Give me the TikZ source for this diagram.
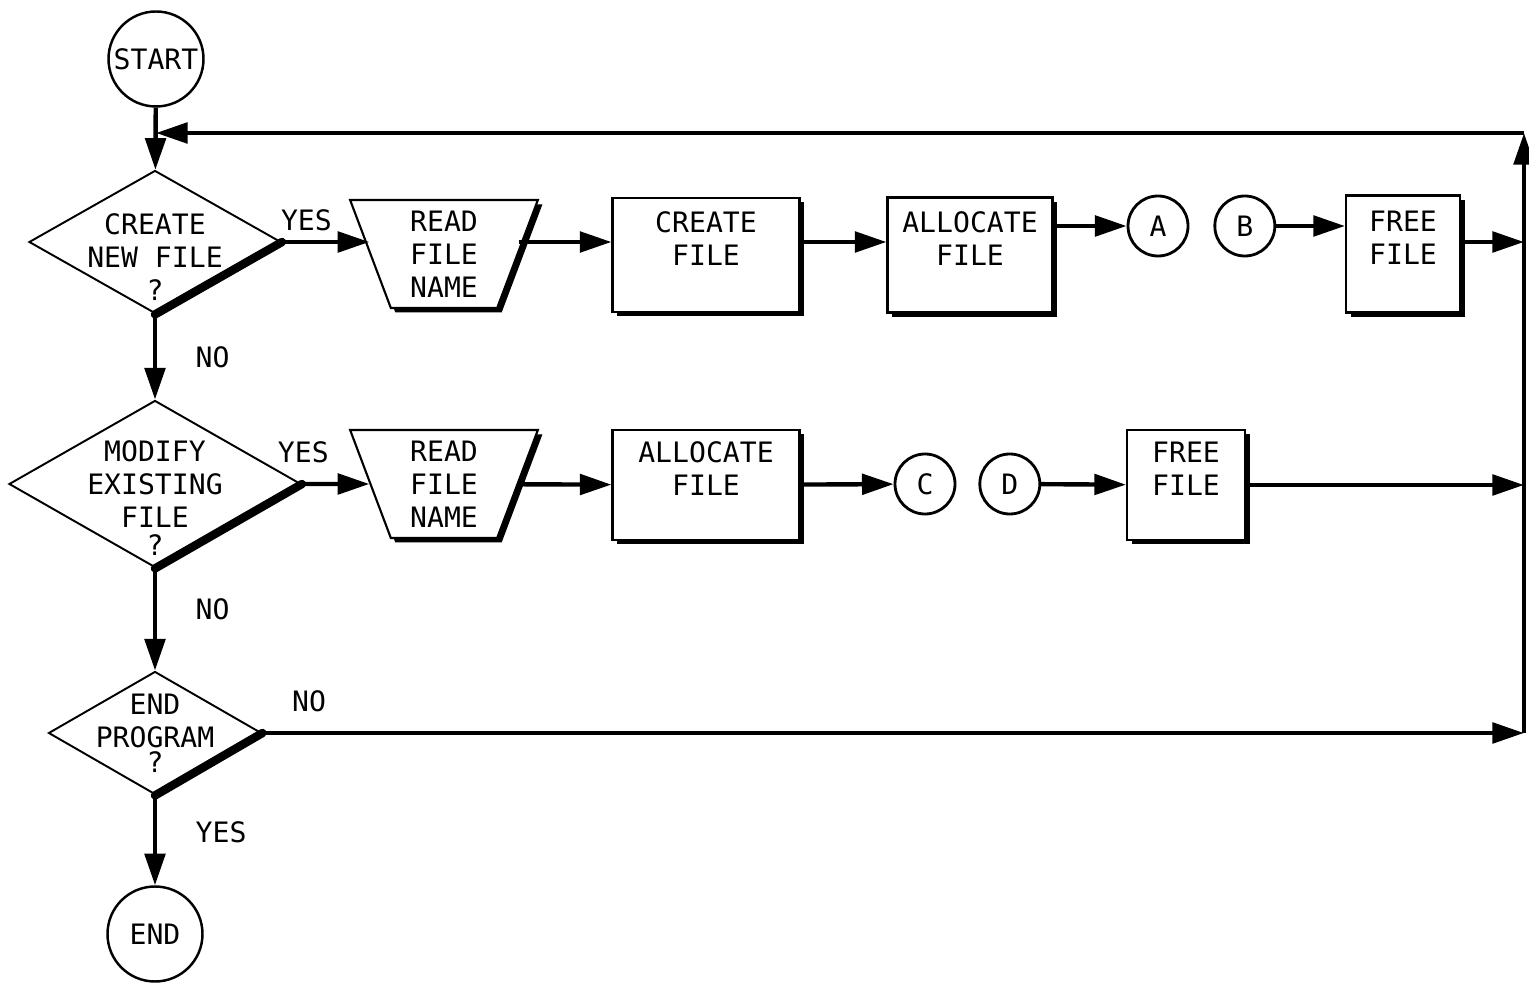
\documentclass[tikz,border=0pt]{standalone}
\usepackage{fontspec}
\newfontfamily\plotfont{DejaVu Sans Mono}
\newcommand{\chartfont}{\plotfont\fontsize{8}{9.4}\selectfont}
\usepackage{tikz}
\usetikzlibrary{shapes.geometric, arrows.meta, positioning, shadows}

\begin{document}
\begin{tikzpicture}[
    x=0.1mm, y=-0.1mm,
    txt/.style={font=\chartfont, align=center, inner sep=0pt},
    lbl/.style={font=\chartfont, inner sep=1pt},
    term/.style={draw, circle, line width=0.7pt, minimum size=9.5mm, inner sep=0pt, font=\chartfont},
    conn/.style={draw, circle, line width=0.8pt, minimum size=6mm, inner sep=0pt, font=\chartfont},
    decision/.style={draw, diamond, fill=white, line width=0.55pt, inner sep=0pt},
    proc/.style={draw, fill=white, line width=0.6pt, align=center, font=\chartfont, inner sep=0pt,
        drop shadow={shadow xshift=0.45mm, shadow yshift=-0.45mm, fill=black, opacity=1}},
    io/.style={draw, trapezium, trapezium stretches=true, shape border rotate=180,
        trapezium left angle=73, trapezium right angle=73, minimum width=18.8mm, minimum height=10.8mm,
        fill=white, line width=0.6pt, align=center, font=\chartfont, inner sep=1pt,
        drop shadow={shadow xshift=0.45mm, shadow yshift=-0.45mm, fill=black, opacity=1}},
    flow/.style={-{Triangle[length=9pt, width=5.8pt]}, line width=1.25pt},
    heavy/.style={line width=2.4pt, line cap=round}
]
\useasboundingbox (0,0) rectangle (1529,987);

% Main column
\node[term] (start) at (156,59) {START};
\node[decision, minimum width=25.2mm, minimum height=14.3mm] (q1) at (155,242) {};
\node[txt] (q1txt) at (155,257) {CREATE\\NEW FILE\\?};
\node[decision, minimum width=29.2mm, minimum height=16.7mm] (q2) at (155,484) {};
\node[txt] (q2txt) at (155,498) {MODIFY\\EXISTING\\FILE\\[-1.4pt]?};
\node[decision, minimum width=21.3mm, minimum height=12.3mm] (q3) at (155,733) {};
\node[txt] (q3txt) at (155,733) {END\\PROGRAM\\[-2.3pt]?};
\node[term] (stop) at (155,934) {END};

% Row 1 - new file
\node[io] (read1) at (444,254) {READ\\FILE\\NAME};
\node[proc, minimum width=18.7mm, minimum height=11.4mm] (create) at (706,255) {CREATE\\FILE\\\mbox{}};
\node[proc, minimum width=16.5mm, minimum height=11.5mm] (alloc1) at (970,255) {ALLOCATE\\FILE\\\mbox{}};
\node[conn] (conA) at (1158,226) {A};
\node[conn, right=2.4mm of conA] (conB) {B};
\node[proc, minimum width=11.4mm, minimum height=11.7mm] (free1) at (1403,254) {FREE\\FILE\\\mbox{}};

% Row 2 - existing file
\node[io] (read2) at (444,484) {READ\\FILE\\NAME};
\node[proc, minimum width=18.7mm, minimum height=11mm] (alloc2) at (706,485) {ALLOCATE\\FILE\\\mbox{}};
\node[conn] (conC) at (925,484) {C};
\node[conn, right=2.2mm of conC] (conD) {D};
\node[proc, minimum width=11.8mm, minimum height=11mm] (free2) at (1186,485) {FREE\\FILE\\\mbox{}};

% Return line
\coordinate (rtop) at (1524,133);
\coordinate (rbot) at (1524,733);

% Thick lower edges of the decisions
\draw[heavy] (q1.east) -- (q1.south);
\draw[heavy] (q2.east) -- (q2.south);
\draw[heavy] (q3.east) -- (q3.south);

% Connectors
\draw[flow] (start) -- (q1);
\draw[flow] (q1) -- node[lbl, right=3.5mm] {NO} (q2);
\draw[flow] (q2) -- node[lbl, pos=0.4, right=3.5mm] {NO} (q3);
\draw[flow] (q3) -- node[lbl, pos=0.41, right=3.5mm] {YES} (stop);

\draw[flow] (q1.east) -- node[lbl, pos=0.28, above=1.5pt] {YES} (q1.east -| read1.west);
\draw[flow] (q1.east -| read1.east) -- (q1.east -| create.west);
\draw[flow] (q1.east -| create.east) -- (q1.east -| alloc1.west);
\draw[flow] (conA -| alloc1.east) -- (conA);
\draw[flow] (conB) -- (conB -| free1.west);
\draw[flow] (q1.east -| free1.east) -- (q1.east -| rtop);

\draw[flow] (q2) -- node[lbl, pos=0.02, above=4.5pt] {YES} (read2);
\draw[flow] (read2) -- (alloc2);
\draw[flow] (alloc2) -- (conC);
\draw[flow] (conD) -- (free2);
\draw[flow] (free2) -- (free2 -| rtop);

\draw[flow] (q3) -- node[lbl, pos=0.037, above=4.5pt] {NO} (rbot);
\draw[flow] (rbot) -- (rtop);
\draw[flow] (rtop) -- (start |- rtop);

\end{tikzpicture}
\end{document}
